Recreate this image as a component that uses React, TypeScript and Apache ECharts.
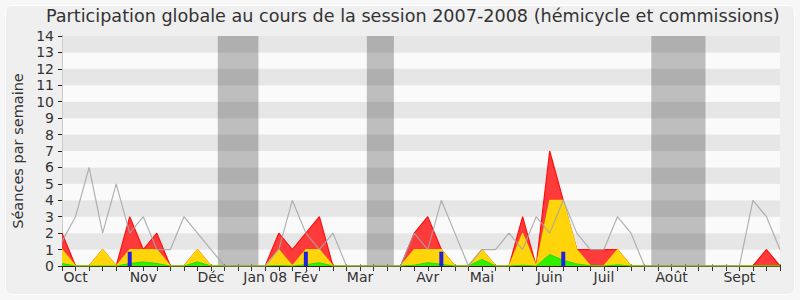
import React, { useEffect, useRef } from "react";
import * as echarts from "echarts";

// Weekly values, index 0 = first week of October 2007
const redTotal = [2, 0, 0, 1, 0, 3, 1, 2, 0, 0, 1, 0, 0, 0, 0, 0, 2, 1, 2, 3, 0, 0, 0, 0, 0, 0, 2, 3, 1, 0, 0, 1, 0, 0, 3, 0, 7, 4, 1, 1, 1, 1, 0, 0, 0, 0, 0, 0, 0, 0, 0, 0, 1, 0];
const yellowValues = [1, 0, 0, 1, 0, 1, 1, 1, 0, 0, 1, 0, 0, 0, 0, 0, 1, 0, 1, 1, 0, 0, 0, 0, 0, 0, 1, 1, 1, 0, 0, 1, 0, 0, 2, 0, 4, 4, 1, 0, 0, 1, 0, 0, 0, 0, 0, 0, 0, 0, 0, 0, 0, 0];
const greenValues = [0.15, 0, 0, 0, 0, 0.15, 0.25, 0.15, 0, 0, 0.25, 0, 0, 0, 0, 0, 0.03, 0, 0.08, 0.2, 0, 0, 0, 0, 0, 0, 0.05, 0.2, 0.1, 0, 0, 0.4, 0, 0, 0.05, 0, 0.7, 0.35, 0.12, 0.02, 0, 0.07, 0, 0, 0, 0, 0, 0, 0, 0, 0, 0, 0, 0];
const grayMedian = [1.5, 3, 6, 2, 5, 2, 3, 1, 1, 3, 2, 1, 0, 0, 0, 0, 1, 4, 2, 1, 2, 0, 0, 0, 0, 0, 2, 1, 4, 2, 0, 1, 1, 2, 1, 3, 2, 4, 2, 1, 1, 3, 2, 0, 0, 0, 0, 0, 0, 0, 0, 4, 3, 1];
const blueWeeks = [5, 18, 28, 37];
const blueValues = [0.87, 0.87, 0.87, 0.87];

const monthTicks = [1, 6, 11, 15, 18, 22, 27, 31, 36, 40, 45, 50];
const monthLabels = ["Oct", "Nov", "Déc", "Jan 08", "Fév", "Mar", "Avr", "Mai", "Juin", "Juil", "Août", "Sept"];

const vacationStart = [11.5, 22.5, 43.5];
const vacationEnd = [14.5, 24.5, 47.5];

const toPairs = (arr: number[]) => arr.map((v, i) => [i, v]);

export default function App() {
  const ref = useRef<HTMLDivElement>(null);
  useEffect(() => {
    if (!ref.current) return;
    const chart = echarts.init(ref.current, null, { renderer: "svg" });
    const font = "DejaVu Sans";
    const labelMap: Record<number, string> = {};
    monthTicks.forEach((t, k) => (labelMap[t] = monthLabels[k]));
    const lastWeek = redTotal.length - 1;

    chart.setOption({
      animation: false,
      backgroundColor: "#f7f7f7",
      textStyle: { fontFamily: font },
      graphic: [
        {
          type: "rect",
          z: -10,
          shape: { x: 5.5, y: 5.5, width: 789, height: 289, r: 6 },
          style: { fill: "#efefef", stroke: "#ffffff", lineWidth: 1 },
        },
      ],
      title: {
        text: "Participation globale au cours de la session 2007-2008 (hémicycle et commissions)",
        left: 46,
        top: 7,
        padding: 0,
        textStyle: { fontFamily: font, fontSize: 17.6, fontWeight: "normal", color: "#333333" },
      },
      grid: { left: 62, right: 20, top: 36, bottom: 34 },
      xAxis: [
        {
          type: "value",
          min: 0,
          max: lastWeek,
          interval: 1,
          axisLine: { show: true, lineStyle: { color: "#3a1a10", width: 1 } },
          axisTick: { show: true, length: 5, lineStyle: { color: "#333333" } },
          axisLabel: {
            show: true,
            margin: 4,
            fontSize: 14,
            color: "#333333",
            fontFamily: font,
            formatter: (v: number) => labelMap[v] || "",
          },
          splitLine: { show: false },
        },
        {
          type: "value",
          position: "top",
          min: 0,
          max: lastWeek,
          interval: 1,
          axisLine: { show: false },
          axisTick: { show: true, length: 1.5, lineStyle: { color: "#222222" } },
          axisLabel: { show: false },
          splitLine: { show: false },
        },
      ],
      yAxis: [
        {
          type: "value",
          min: 0,
          max: 14,
          interval: 1,
          name: "Séances par semaine",
          nameLocation: "middle",
          nameGap: 37,
          nameTextStyle: { fontFamily: font, fontSize: 14.5, color: "#333333" },
          axisLine: { show: true, lineStyle: { color: "#222222" } },
          axisTick: { show: true, length: 4, lineStyle: { color: "#222222" } },
          axisLabel: { margin: 8, fontSize: 14, color: "#333333", fontFamily: font },
          splitLine: { show: false },
          splitArea: { show: true, areaStyle: { color: ["#fafafa", "#e6e6e6"] } },
        },
        {
          type: "value",
          position: "right",
          min: 0,
          max: 14,
          interval: 1,
          axisLine: { show: true, lineStyle: { color: "#cccccc" } },
          axisTick: { show: false },
          axisLabel: { show: false },
          splitLine: { show: false },
        },
      ],
      series: [
        {
          name: "total",
          type: "line",
          data: toPairs(redTotal),
          symbol: "none",
          z: 3,
          lineStyle: { color: "#ff1010", width: 1.2 },
          areaStyle: { color: "#ff3a3a", opacity: 1 },
          markArea: {
            silent: true,
            itemStyle: { color: "rgba(0,0,0,0.24)" },
            data: vacationStart.map((s, k) => [{ xAxis: s }, { xAxis: vacationEnd[k] }]),
          },
        },
        {
          name: "hemicycle",
          type: "line",
          data: toPairs(yellowValues),
          symbol: "none",
          z: 4,
          lineStyle: { color: "rgba(255,238,0,0.75)", width: 1.2 },
          areaStyle: { color: "#ffd40a", opacity: 1 },
        },
        {
          name: "commission",
          type: "line",
          data: toPairs(greenValues),
          symbol: "none",
          z: 5,
          lineStyle: { color: "#22dd00", width: 1 },
          areaStyle: { color: "#33ee00", opacity: 1 },
        },
        {
          name: "questions",
          type: "bar",
          data: blueWeeks.map((w, k) => [w, blueValues[k]]),
          barWidth: 4,
          z: 6,
          itemStyle: { color: "#2222dd" },
        },
        {
          name: "mediane",
          type: "line",
          data: toPairs(grayMedian),
          symbol: "none",
          z: 7,
          lineStyle: { color: "rgba(165,165,165,0.85)", width: 1.2 },
        },
      ],
    });
    return () => chart.dispose();
  }, []);
  return <div ref={ref} style={{ position: "fixed", left: 0, top: 0, width: 800, height: 300 }} />;
}
